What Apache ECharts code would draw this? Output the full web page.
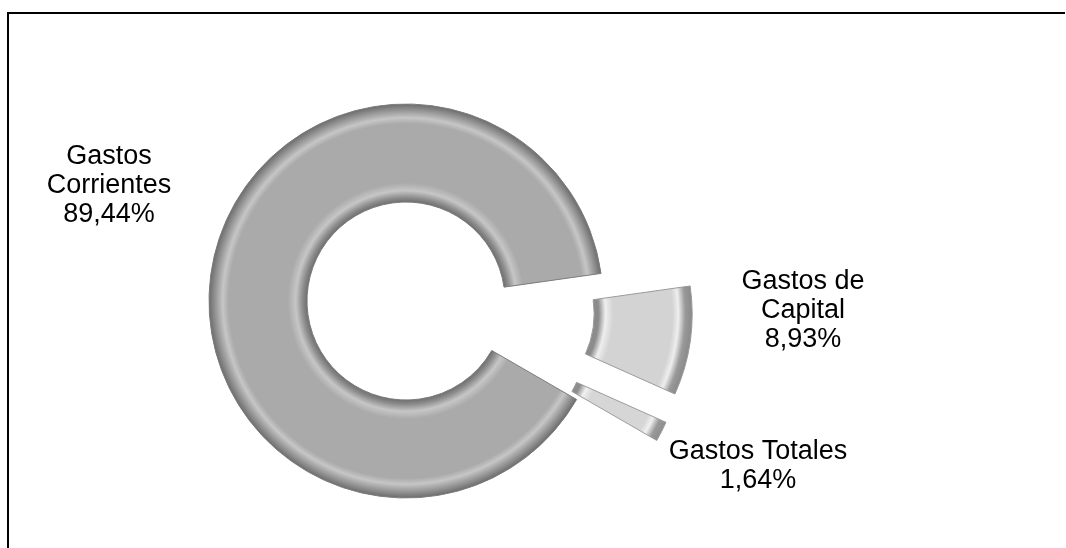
<!DOCTYPE html>
<html lang='es'>
<head>
  <meta charset='UTF-8'>
  <title>Gastos</title>
  <script src="https://cdn.jsdelivr.net/npm/echarts@6/dist/echarts.min.js"></script>
  <style>
    html, body {
      margin: 0;
      padding: 0;
      width: 100%;
      height: 100%;
      background: #fff;
      overflow: hidden;
    }
    #frame {
      position: absolute;
      left: 7px;
      top: 12px;
      right: 1px;
      bottom: -4px;
      border-top: 2px solid #000;
      border-left: 2px solid #000;
    }
    #chart {
      position: absolute;
      left: 0;
      top: 0;
      width: 1066px;
      height: 548px;
    }
  </style>
</head>
<body>
  <div id="frame"></div>
  <div id="chart"></div>
  <script>
    // datos
    const categories = ['Gastos\nCorrientes', 'Gastos de\nCapital', 'Gastos Totales']
    const values = [89.44, 8.93, 1.64]

    const cx = 406, cy = 301, rIn = 99, rOut = 197

    // relieve simulado con degradado radial (coordenadas globales del sector)
    function bevel (face, light, dark) {
      return new echarts.graphic.RadialGradient(cx, cy, rOut, [
        { offset: 0.5, color: dark },
        { offset: 0.525, color: '#8c8c8c' },
        { offset: 0.56, color: light },
        { offset: 0.6, color: face },
        { offset: 0.9, color: face },
        { offset: 0.93, color: light },
        { offset: 0.965, color: '#999999' },
        { offset: 1, color: dark }
      ], true)
    }

    const styles = [
      { color: bevel('#aaaaaa', '#c6c6c6', '#6c6c6c'), borderColor: '#7c7c7c' },
      { color: bevel('#d3d3d3', '#eeeeee', '#8a8a8a'), borderColor: '#9a9a9a' },
      { color: bevel('#d6d6d6', '#f0f0f0', '#8e8e8e'), borderColor: '#9c9c9c' }
    ]

    // posiciones de las etiquetas (centro del bloque de texto)
    const labelPos = [[109, 186], [803, 311], [758, 466]]

    const base = {
      type: 'pie',
      center: [cx, cy],
      radius: [rIn, rOut],
      startAngle: -30,
      clockwise: true,
      silent: true,
      avoidLabelOverlap: false,
      labelLine: { show: false }
    }

    const chart = echarts.init(document.getElementById('chart'), null, { renderer: 'canvas' })

    chart.setOption({
      animation: false,
      backgroundColor: 'transparent',
      series: [
        // sectores (los dos pequeños separados)
        Object.assign({}, base, {
          selectedMode: 'multiple',
          selectedOffset: 90,
          label: { show: false },
          data: categories.map((name, i) => ({
            name: name,
            value: values[i],
            selected: i > 0,
            itemStyle: Object.assign({ borderWidth: 1 }, styles[i]),
            select: { itemStyle: Object.assign({ borderWidth: 1 }, styles[i]) }
          }))
        }),
        // etiquetas
        Object.assign({}, base, {
          z: 3,
          itemStyle: { color: 'rgba(0,0,0,0)', borderWidth: 0 },
          label: {
            show: true,
            color: '#000',
            fontFamily: 'Liberation Sans, Arial, sans-serif',
            fontSize: 27,
            lineHeight: 29,
            align: 'center',
            formatter: p => p.name + '\n' + p.value.toFixed(2).replace('.', ',') + '%'
          },
          labelLayout: params => ({
            x: labelPos[params.dataIndex][0],
            y: labelPos[params.dataIndex][1],
            align: 'center',
            verticalAlign: 'middle'
          }),
          data: categories.map((name, i) => ({ name: name, value: values[i] }))
        })
      ]
    })
  </script>
</body>
</html>
